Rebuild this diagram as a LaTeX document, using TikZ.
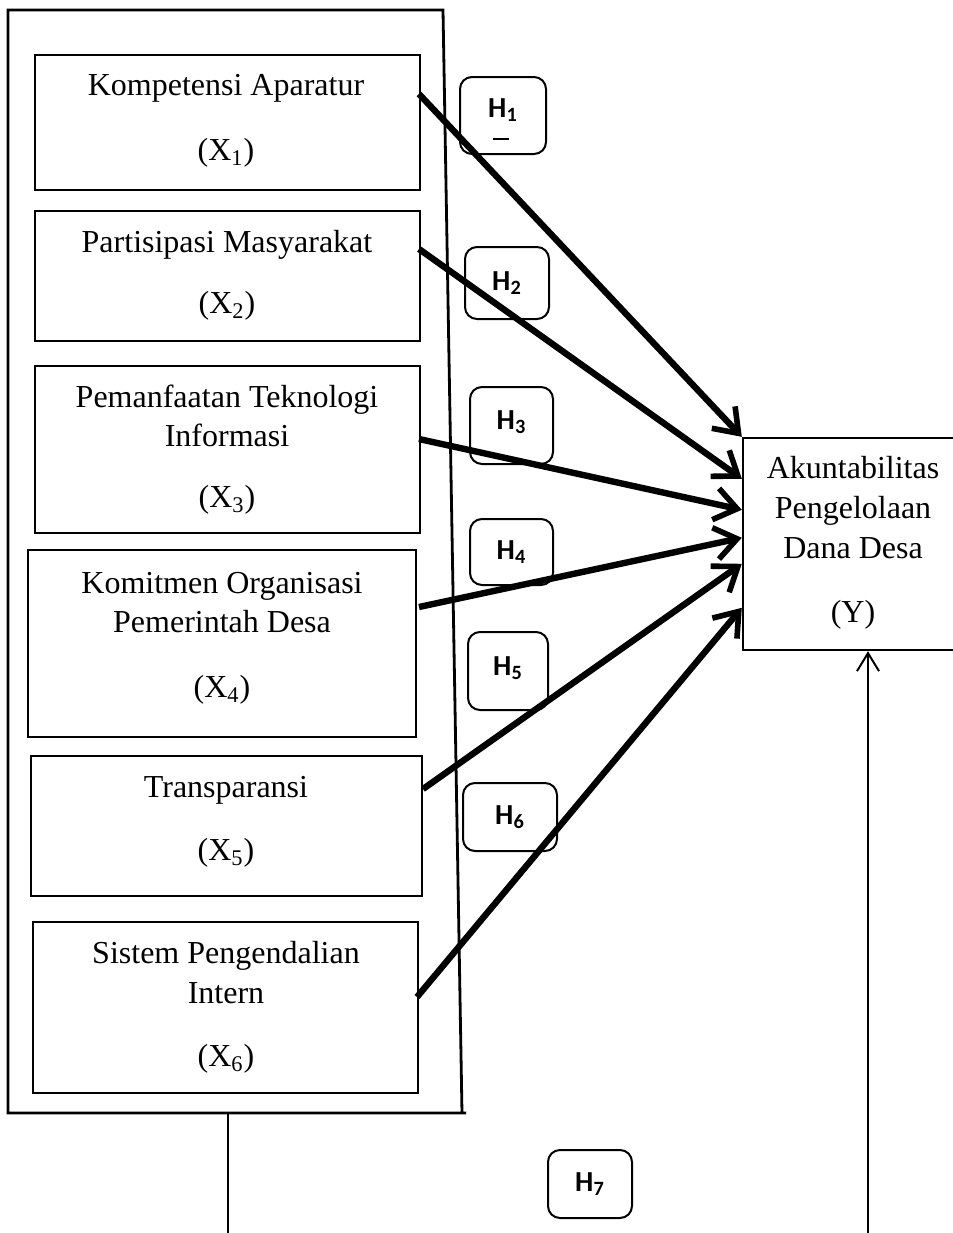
\documentclass[tikz,border=0pt]{standalone}
\usepackage{fontspec}
\setmainfont{Liberation Serif}
\newfontfamily\hfont{Carlito}
\usetikzlibrary{arrows.meta,calc}
\begin{document}
\begin{tikzpicture}[x=0.5pt,y=-0.5pt,
  varbox/.style={draw,line width=1pt,inner sep=0pt,rectangle},
  vtext/.style={inner sep=0pt,anchor=center,text height=10.5pt,text depth=0pt,font=\fontsize{16}{20}\selectfont},
  hbox/.style={draw,line width=1pt,rounded corners=6pt,inner sep=0pt},
  htext/.style={inner sep=0pt,font=\hfont\bfseries\fontsize{14.5}{17}\selectfont},
  effect/.style={line width=3.2pt,-{Straight Barb[length=11pt,width=16pt,line width=2.8pt]}},
  thin/.style={line width=1pt}
]
\path[use as bounding box] (0,0) rectangle (953,1233);
\clip (0,0) rectangle (953,1233);

% outer frame
\draw[line width=1.4pt] (8,10) -- (443,10) -- (462,1113) -- (466,1113) -- (8,1113) -- cycle;

% variable boxes
\node[varbox,minimum width=192.5pt,minimum height=67.5pt] (b1) at (227.5,122.5) {};
\node[varbox,minimum width=192.5pt,minimum height=65pt] (b2) at (227.5,276) {};
\node[varbox,minimum width=192.5pt,minimum height=83.5pt] (b3) at (227.5,449.5) {};
\node[varbox,minimum width=194pt,minimum height=93.5pt] (b4) at (222,643.5) {};
\node[varbox,minimum width=195.5pt,minimum height=70pt] (b5) at (226.5,826) {};
\node[varbox,minimum width=192.5pt,minimum height=85.5pt] (b6) at (225.5,1007.5) {};

\node[vtext] (t1a) at (226,85) {Kompetensi Aparatur};
\node[vtext] (t1b) at (226,150) {(X\textsubscript{1})};
\node[vtext] (t2a) at (227,242) {Partisipasi Masyarakat};
\node[vtext] (t2b) at (227,303) {(X\textsubscript{2})};
\node[vtext] (t3a) at (227,397) {Pemanfaatan Teknologi};
\node[vtext] (t3b) at (227,436) {Informasi};
\node[vtext] (t3c) at (227,497) {(X\textsubscript{3})};
\node[vtext] (t4a) at (222,583) {Komitmen Organisasi};
\node[vtext] (t4b) at (222,622) {Pemerintah Desa};
\node[vtext] (t4c) at (222,687) {(X\textsubscript{4})};
\node[vtext] (t5a) at (226,787) {Transparansi};
\node[vtext] (t5b) at (226,850) {(X\textsubscript{5})};
\node[vtext] (t6a) at (226,953) {Sistem Pengendalian};
\node[vtext] (t6b) at (226,993) {Intern};
\node[vtext] (t6c) at (226,1056) {(X\textsubscript{6})};

% dependent variable
\node[varbox,line width=1.2pt,minimum width=113.5pt,minimum height=106pt] (Y) at (856.5,544) {};
\node[vtext] (ya) at (853,468) {Akuntabilitas};
\node[vtext] (yb) at (853,508) {Pengelolaan};
\node[vtext] (yc) at (853,548) {Dana Desa};
\node[vtext] (yd) at (853,612) {(Y)};

% hypothesis labels
\node[hbox,minimum width=43pt,minimum height=38.5pt] (h1) at (503,115.5) {};
\node[htext] (h1t) at (503,110) {H\textsubscript{1}};
\draw[thin] ($(h1.center)+(-10,23)$) -- ($(h1.center)+(6,23)$);
\node[hbox,minimum width=42pt,minimum height=36pt] (h2) at (507,283) {};
\node[htext] at (h2) {H\textsubscript{2}};
\node[hbox,minimum width=41.5pt,minimum height=38.5pt] (h3) at (511.5,425.5) {};
\node[htext] at (511.5,422) {H\textsubscript{3}};
\node[hbox,minimum width=41.5pt,minimum height=33pt] (h4) at (511.5,552) {};
\node[htext] at (h4) {H\textsubscript{4}};
\node[hbox,minimum width=40pt,minimum height=39pt] (h5) at (508,671) {};
\node[htext] at (508,668) {H\textsubscript{5}};
\node[hbox,minimum width=47pt,minimum height=34pt] (h6) at (510,817) {};
\node[htext] at (h6) {H\textsubscript{6}};
\node[hbox,minimum width=42pt,minimum height=34pt] (h7) at (590,1184) {};
\node[htext] at (h7) {H\textsubscript{7}};

% effects
\draw[effect] ($(b1.north east)+(-2,40)$) -- ($(Y.north west)+(0,0)$);
\draw[effect] ($(b2.north east)+(-2,39)$) -- ($(Y.north west)+(0,42)$);
\draw[effect] ($(b3.north east)+(-2,74)$) -- ($(Y.north west)+(0,73)$);
\draw[effect] ($(b4.north east)+(2,58)$) -- ($(Y.north west)+(0,101)$);
\draw[effect] ($(b5.north east)+(0,34)$) -- ($(Y.north west)+(0,127)$);
\draw[effect] ($(b6.north east)+(-2,76)$) -- ($(Y.north west)+(0,171)$);

% simultaneous effect
\coordinate (fb) at (228,1113);
\coordinate (lb) at (228,1240);
\coordinate (rb) at (868,1240);
\draw[thin] (fb) -- (lb);
\draw[thin,-{Straight Barb[length=9pt,width=11pt,line width=1pt]}] (rb) -- (rb |- Y.south);
\end{tikzpicture}
\end{document}
